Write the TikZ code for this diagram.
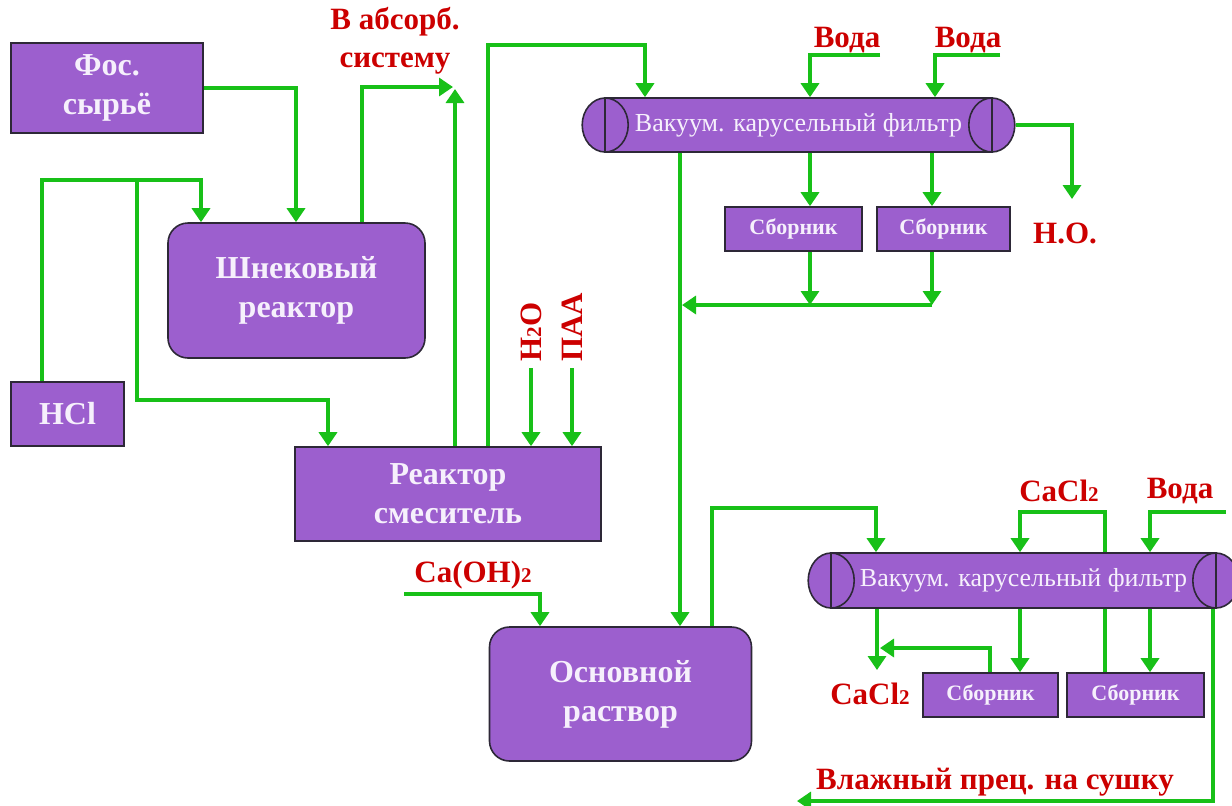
\documentclass[tikz,border=0pt]{standalone}
\usepackage{fontspec}
\setmainfont{Liberation Serif}
\usetikzlibrary{arrows.meta,calc}
\definecolor{boxfill}{RGB}{156,95,206}
\definecolor{boxline}{RGB}{45,40,55}
\definecolor{boxtext}{RGB}{246,240,252}
\definecolor{flowgreen}{RGB}{24,192,24}
\definecolor{lblred}{RGB}{204,0,0}
\pgfdeclarelayer{bg}
\pgfsetlayers{bg,main}
\newcommand{\lowtwo}{{\fontsize{10.5}{10}\selectfont 2}}
\tikzset{
	box/.style={draw=boxline, fill=boxfill, line width=0.8pt, text=boxtext, inner sep=0pt, align=center, font=\bfseries\fontsize{16}{19.5}\selectfont},
	rbox/.style={box, rounded corners=10pt},
	sbox/.style={box, font=\bfseries\fontsize{11}{13}\selectfont},
	vessel/.style={box, font=\fontsize{13}{15}\selectfont},
	vesend/.style={draw=boxline, fill=boxfill, line width=0.8pt},
	flow/.style={draw=flowgreen, line width=1.7pt, -{Triangle[width=9pt,length=7pt]}},
	lbl/.style={text=lblred, inner sep=0pt, align=center, font=\bfseries\fontsize{15.5}{19}\selectfont},
}

\begin{document}
\begin{tikzpicture}[x=0.5pt,y=-0.5pt]
		%%%%% START %%%%%
		\useasboundingbox (0,0) rectangle (1232,805);
		
		% apparatus
		\node[box, minimum width=96pt, minimum height=45pt] (fos) at (107,88) {Фос.\\сырьё};
		\node[rbox, minimum width=128.5pt, minimum height=67.5pt] (shnek) at (296.5,290.5) {Шнековый\\реактор};
		\node[box, minimum width=56.5pt, minimum height=32pt] (hcl) at (67.5,414) {HCl};
		\node[box, minimum width=153pt, minimum height=47pt] (mix) at (448,494) {Реактор\\смеситель};
		\node[rbox, minimum width=131pt, minimum height=67pt] (osn) at (620.5,694) {Основной\\раствор};
		
		\node[sbox, minimum width=68.5pt, minimum height=22pt] (sb1) at (793.5,229) {Сборник};
		\node[sbox, minimum width=66.5pt, minimum height=22pt] (sb2) at (943.5,229) {Сборник};
		\node[sbox, minimum width=67.5pt, minimum height=22pt] (sb3) at (990.5,695) {Сборник};
		\node[sbox, minimum width=68.5pt, minimum height=22pt] (sb4) at (1135.5,695) {Сборник};
		
		% filters
		\node[vessel, minimum width=192.5pt, minimum height=27pt] (filt1) at (798.5,125) {Вакуум. карусельный фильтр};
		\draw[vesend] (filt1.west) ellipse [x radius=11.5pt, y radius=13.5pt];
		\draw[vesend] (filt1.east) ellipse [x radius=11.5pt, y radius=13.5pt];
		\draw[vesend] (filt1.north west) -- (filt1.south west);
		\draw[vesend] (filt1.north east) -- (filt1.south east);
		
		\node[vessel, minimum width=191.5pt, minimum height=27.5pt] (filt2) at (1023.5,580.5) {Вакуум. карусельный фильтр};
		\draw[vesend] (filt2.west) ellipse [x radius=11.5pt, y radius=13.75pt];
		\draw[vesend] (filt2.east) ellipse [x radius=11.5pt, y radius=13.75pt];
		\draw[vesend] (filt2.north west) -- (filt2.south west);
		\draw[vesend] (filt2.north east) -- (filt2.south east);
		
		% labels
		\node[lbl] (lbabs) at (395,41) {В абсорб.\\систему};
		\node[lbl] (lbvoda1) at (847,40) {Вода};
		\node[lbl] (lbvoda2) at (968,40) {Вода};
		\node[lbl] (lbno) at (1065,233) {Н.О.};
		\node[lbl, rotate=90, anchor=west] (lbh2o) at (531,362) {H\lowtwo O};
		\node[lbl, rotate=90, anchor=west] (lbpaa) at (572,362) {ПАА};
		\node[lbl] (lbcaoh) at (473,575) {Ca(OH)\lowtwo};
		\node[lbl] (lbcacl1) at (1059,491) {CaCl\lowtwo};
		\node[lbl] (lbvoda3) at (1180,491) {Вода};
		\node[lbl] (lbcacl2) at (870,694) {CaCl\lowtwo};
		\node[lbl] (lbwet) at (995,782) {Влажный прец. на сушку};
		
		% free ends
		\coordinate (hclsplit) at (137,180);
		\coordinate (absorb) at (455,87);
		\coordinate (voda1) at (880,55);
		\coordinate (voda2) at (1000,55);
		\coordinate (notip) at (1072,199);
		\coordinate (collect) at (932,305);
		\coordinate (voda3) at (1226,512);
		\coordinate (cacltip) at (877,670);
		\coordinate (wettip) at (797,801);
		\coordinate (caoh) at (404,594);
		
		% flows
		\draw[flow] (fos.east) -| (shnek.north -| 296,0);
		\draw[flow] (hcl.north -| 42,0) -- (42,180) -| (shnek.north -| 201,0);
		\draw[flow] (hclsplit) -- (137,400) -| (mix.north -| 328,0);
		\draw[flow] (shnek.north -| 362,0) |- ([xshift=-1pt]absorb);
		\draw[flow] (mix.north -| 455,0) -- ([yshift=-1pt]absorb);
		\draw[flow] (mix.north -| 488,0) -- (488,45) -| (filt1.north -| 645,0);
		\draw[flow, shorten <=3pt] (lbh2o.west) -- (mix.north -| lbh2o.west);
		\draw[flow, shorten <=3pt] (lbpaa.west) -- (mix.north -| lbpaa.west);
		
		\draw[flow] (voda1) -| (filt1.north -| 810,0);
		\draw[flow] (voda2) -| (filt1.north -| 935,0);
		\draw[flow] ([xshift=12pt]filt1.east) -| (notip);
		\draw[flow] (filt1.south -| 810,0) -- (sb1.north -| 810,0);
		\draw[flow] (filt1.south -| 932,0) -- (sb2.north -| 932,0);
		\draw[flow] (sb1.south -| 810,0) -- (810,305);
		\draw[flow] (sb2.south -| 932,0) -- (collect);
		\draw[flow] (collect) -- (682,305);
		\draw[flow] (filt1.south -| 680,0) -- (osn.north -| 680,0);
		
		\draw[flow] (caoh) -| (osn.north -| 540,0);
		\draw[flow] (osn.north -| 712,0) -- (712,508) -| (filt2.north -| 876,0);
		\begin{pgfonlayer}{bg}
			\draw[flow] (sb4.north -| 1105,0) -- (1105,512) -| (filt2.north -| 1020,0);
		\end{pgfonlayer}
		\draw[flow] (voda3) -| (filt2.north -| 1150,0);
		\draw[flow] (filt2.south -| 877,0) -- (cacltip);
		\draw[flow] (sb3.north -| 990,0) |- (880,648);
		\draw[flow] (filt2.south -| 1020,0) -- (sb3.north -| 1020,0);
		\draw[flow] (filt2.south -| 1150,0) -- (sb4.north -| 1150,0);
		\draw[flow] (filt2.south -| 1213,0) |- (wettip);
		
		%%%%% END %%%%%
	\end{tikzpicture}
\end{document}
